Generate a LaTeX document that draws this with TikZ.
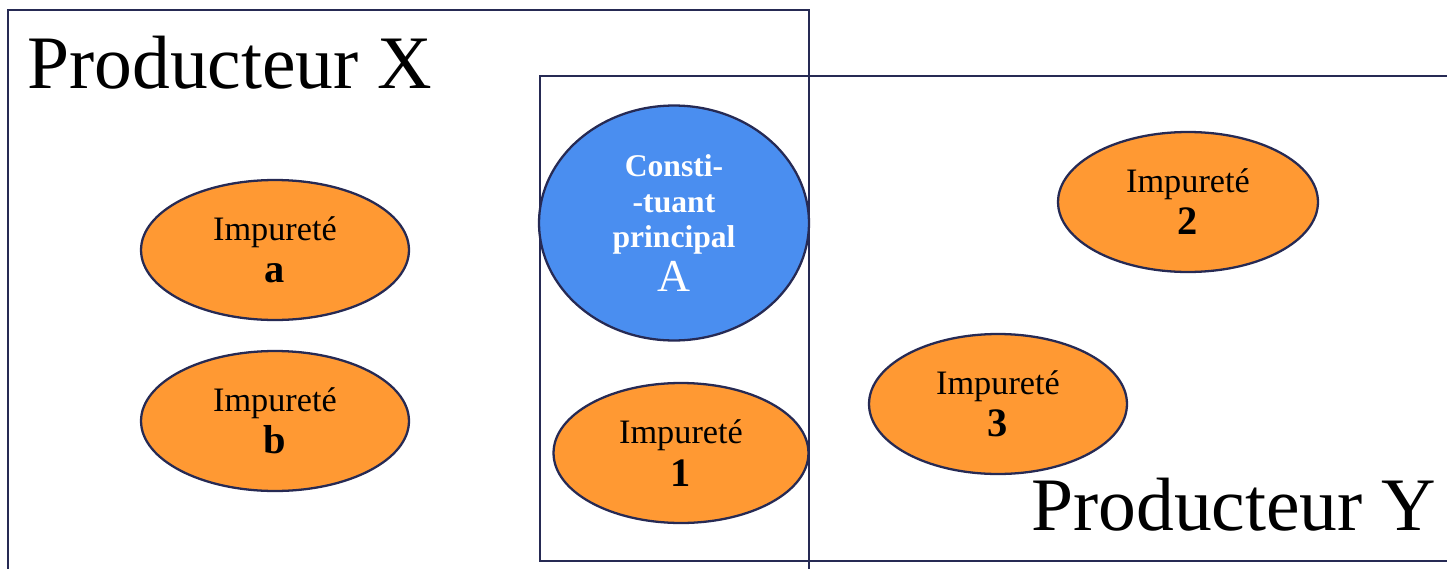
\documentclass[tikz,border=0pt]{standalone}
\usepackage{fontspec}
\setmainfont{Liberation Serif}
\usetikzlibrary{positioning}
\usetikzlibrary{shapes.geometric}
\definecolor{navy}{RGB}{38, 42, 84}
\definecolor{orangefill}{RGB}{255, 153, 51}
\definecolor{bluefill}{RGB}{74, 142, 240}
\tikzset{
  producer/.style   = {draw=navy, line width=1.4pt},
  impurete/.style   = {shape=ellipse, draw=navy, line width=1.3pt,
                       fill=orangefill, inner sep=0pt, align=center,
                       minimum width=5.2cm, minimum height=2.8cm,
                       font=\fontsize{19.5}{24}\selectfont},
  constituant/.style= {impurete, fill=bluefill, text=white,
                       minimum width=5.4cm, minimum height=4.7cm,
                       font=\fontsize{18}{20}\selectfont\bfseries},
  label/.style      = {anchor=base west, inner sep=0pt,
                       font=\fontsize{43}{47}\selectfont}
}
\newcommand{\tag}[1]{{\bfseries\fontsize{23}{23}\selectfont #1}}
\begin{document}
\begin{tikzpicture}[x=0.02cm, y=-0.02cm]
  \useasboundingbox (0,0) rectangle (1447,568);
  \clip (0,0) rectangle (1447,568);
  % producer boxes
  \draw [producer] (8,10) rectangle (809,600);
  \draw [producer] (540,76) rectangle (1470,561);
  \node [label] (px) at (27,88) {Producteur X};
  \node [label] (py) at (1031,530) {Producteur Y};
  % constituents
  \node [constituant] (A) at (674,223)
        {Consti-\\-tuant\\principal\\[3pt]{\mdseries\fontsize{26}{26}\selectfont A}};
  \node [impurete, minimum width=5.1cm] (i1) at (681,453) {Impureté\\\tag{1}};
  \node [impurete, minimum width=5.36cm] (ia) at (275,250) {Impureté\\\tag{a}};
  \node [impurete, minimum width=5.36cm] (ib) at (275,421) {Impureté\\\tag{b}};
  \node [impurete] (i2) at (1188,202) {Impureté\\\tag{2}};
  \node [impurete, minimum width=5.16cm] (i3) at (998,404) {Impureté\\\tag{3}};
\end{tikzpicture}
\end{document}
